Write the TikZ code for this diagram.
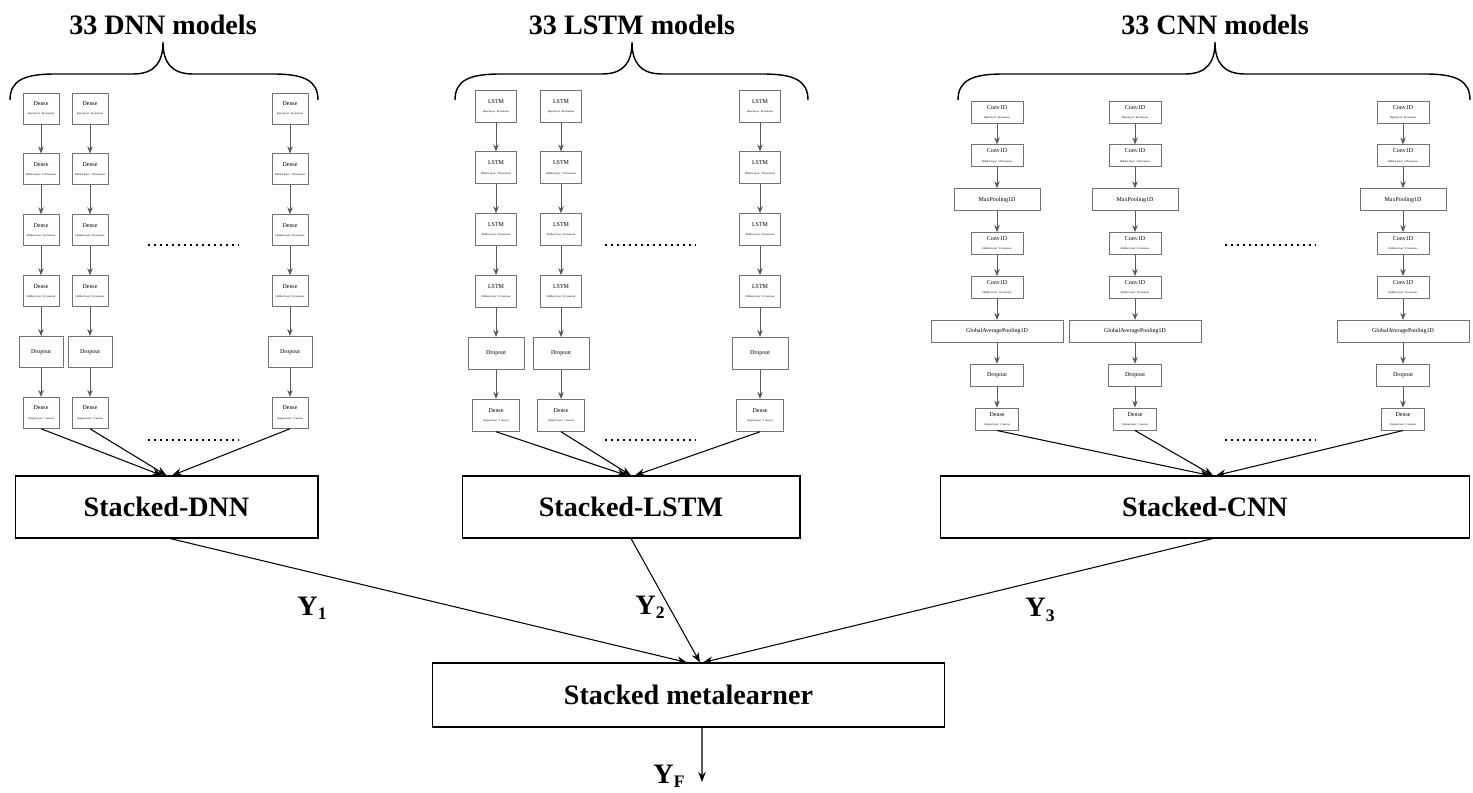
\documentclass[tikz,border=0pt]{standalone}
\usepackage{fontspec}
\setmainfont{Liberation Serif}
\usetikzlibrary{chains, scopes, positioning, arrows.meta}
% twee regels in een laagblokje: naam en grootte
\newcommand{\lyr}[2]{{\fontsize{3.4}{4}\selectfont #1}\\[1.2pt]{\fontsize{1.6}{2}\selectfont #2}}
% kleine index achter de Y
\newcommand{\idx}[1]{\raisebox{-2.5pt}{\fontsize{10}{10}\selectfont #1}}
\tikzset{
  % pijltjes tussen de blokjes
  every join/.style={-{Stealth[length=1.4mm,width=1.1mm]}, draw=black!65, line width=0.45pt},
  % De kleine laagblokjes in elke kolom
  laag/.style={%
    draw=black!55,
    line width=0.5pt,
    fill=white,
    align=center,
    inner sep=0pt,
    minimum width=7.2mm,
    minimum height=6.2mm,
    font=\fontsize{3.4}{4}\selectfont,
    on chain,           % hoort bij de kolom
    join                % pijltje vanaf het vorige blokje
  },
  cnnlaag/.style={laag, minimum width=10.4mm, minimum height=4.4mm},
  % De grote blokken
  stapel/.style={draw, line width=0.6pt, minimum height=12.4mm, font=\fontsize{16}{19}\selectfont\bfseries},
  titel/.style={font=\fontsize{16}{19}\selectfont\bfseries},
  uitkomst/.style={font=\fontsize{16}{19}\selectfont\bfseries},
  pijl/.style={-{Stealth[length=2mm,width=1.5mm]}, line width=0.6pt},
  accolade/.style={line width=0.8pt},
  puntjes/.style={line width=1.3pt, dash pattern=on 1.13pt off 2.27pt}
}

\begin{document}
\begin{tikzpicture}[x=0.02cm, y=-0.02cm]
  \useasboundingbox (0,0) rectangle (1473,793);

  % --- TITELS EN ACCOLADES ---
  \node[titel] (tdnn)  at (163,25) {33 DNN models};
  \node[titel] (tlstm) at (632,25) {33 LSTM models};
  \node[titel] (tcnn)  at (1215,25) {33 CNN models};

  \foreach \l/\c/\r in {10/163/318, 455/632/808, 958/1215/1470}
    \draw[accolade] (\l,100) .. controls (\l,80) and (\l+15,74) .. (\l+45,74)
      -- (\c-30,74) .. controls (\c-8,74) and (\c,62) .. (\c,42)
      .. controls (\c,62) and (\c+8,74) .. (\c+30,74)
      -- (\r-45,74) .. controls (\r-15,74) and (\r,80) .. (\r,100);

  % --- DNN KOLOMMEN ---
  \foreach \x/\n in {41/a, 90/b, 290/c} {
    \begin{scope}[start chain/.expanded={d\n\space going below}, node distance=5.8mm]
      \node[laag] at (\x,108.5) {\lyr{Dense}{Input layer: 64 neurons}};
      \node[laag] {\lyr{Dense}{Hidden layer: 128 neurons}};
      \node[laag] {\lyr{Dense}{Hidden layer: 64 neurons}};
      \node[laag] {\lyr{Dense}{Hidden layer: 32 neurons}};
      \node[laag, minimum width=8.8mm] {Dropout};
      \node[laag] {\lyr{Dense}{Output layer: 1 neuron}};
    \end{scope}
  }

  % --- LSTM KOLOMMEN ---
  \foreach \x/\n in {496/a, 561/b, 760/c} {
    \begin{scope}[start chain/.expanded={l\n\space going below}, node distance=5.8mm]
      \node[laag, minimum width=8.2mm, minimum height=6.4mm] at (\x,106) {\lyr{LSTM}{Input layer: 64 neurons}};
      \node[laag, minimum width=8.2mm, minimum height=6.4mm] {\lyr{LSTM}{Hidden layer: 128 neurons}};
      \node[laag, minimum width=8.2mm, minimum height=6.4mm] {\lyr{LSTM}{Hidden layer: 64 neurons}};
      \node[laag, minimum width=8.2mm, minimum height=6.4mm] {\lyr{LSTM}{Hidden layer: 32 neurons}};
      \node[laag, minimum width=11.2mm, minimum height=6.4mm] {Dropout};
      \node[laag, minimum width=9.4mm, minimum height=6.4mm] {\lyr{Dense}{Output layer: 1 neuron}};
    \end{scope}
  }

  % --- CNN KOLOMMEN ---
  \foreach \x/\n in {997/a, 1135/b, 1403/c} {
    \begin{scope}[start chain/.expanded={c\n\space going below}, node distance=4.2mm]
      \node[cnnlaag] at (\x,112) {\lyr{Conv1D}{Input layer: 64 neurons}};
      \node[cnnlaag] {\lyr{Conv1D}{Hidden layer: 128 neurons}};
      \node[cnnlaag, minimum width=17.2mm] {MaxPooling1D};
      \node[cnnlaag] {\lyr{Conv1D}{Hidden layer: 32 neurons}};
      \node[cnnlaag] {\lyr{Conv1D}{Hidden layer: 16 neurons}};
      \node[cnnlaag, minimum width=26.4mm] {GlobalAveragePooling1D};
      \node[cnnlaag, minimum width=10.6mm] {Dropout};
      \node[cnnlaag, minimum width=8.6mm] {\lyr{Dense}{Output layer: 1 neuron}};
    \end{scope}
  }

  % puntjes tussen de kolommen
  \foreach \a/\b in {148/238, 605/695, 1225/1315} {
    \draw[puntjes] (\a,245) -- (\b,245);
    \draw[puntjes] (\a,440) -- (\b,440);
  }

  % --- GESTAPELDE BLOKKEN ---
  \node[stapel, minimum width=60.6mm] (sdnn)  at (166.5,507) {Stacked-DNN};
  \node[stapel, minimum width=67.6mm] (slstm) at (631,507)   {Stacked-LSTM};
  \node[stapel, minimum width=106mm]  (scnn)  at (1205,507)  {Stacked-CNN};
  \node[stapel, minimum width=102.6mm, minimum height=12.8mm] (smeta) at (688.5,695) {Stacked metalearner};

  \foreach \n/\s in {a/-0.9mm, b/0mm, c/1.1mm}
    \draw[pijl] (d\n-6.south) -- ([xshift=\s]sdnn.north);
  \foreach \n/\s in {a/-0.8mm, b/0mm, c/0.8mm}
    \draw[pijl] (l\n-6.south) -- ([xshift=\s]slstm.north);
  \foreach \n/\s in {a/1.0mm, b/1.6mm, c/2.2mm}
    \draw[pijl] (c\n-8.south) -- ([xshift=\s]scnn.north);

  % naar de metalearner
  \draw[pijl] ([xshift=0.7mm]sdnn.south) -- ([xshift=-0.3mm]smeta.north);
  \draw[pijl] (slstm.south) -- ([xshift=2.3mm]smeta.north);
  \draw[pijl] ([xshift=1.6mm]scnn.south) -- ([xshift=2.9mm]smeta.north);

  \node[uitkomst] (y1) at (312,608)  {Y\idx{1}};
  \node[uitkomst] (y2) at (650,607)  {Y\idx{2}};
  \node[uitkomst] (y3) at (1040,610) {Y\idx{3}};

  % eindpijl
  \coordinate (uit) at (702,782);
  \draw[pijl] ([xshift=2.7mm]smeta.south) -- (uit);
  \node[uitkomst] (yf) at (669,776) {Y\idx{F}};

\end{tikzpicture}
\end{document}
